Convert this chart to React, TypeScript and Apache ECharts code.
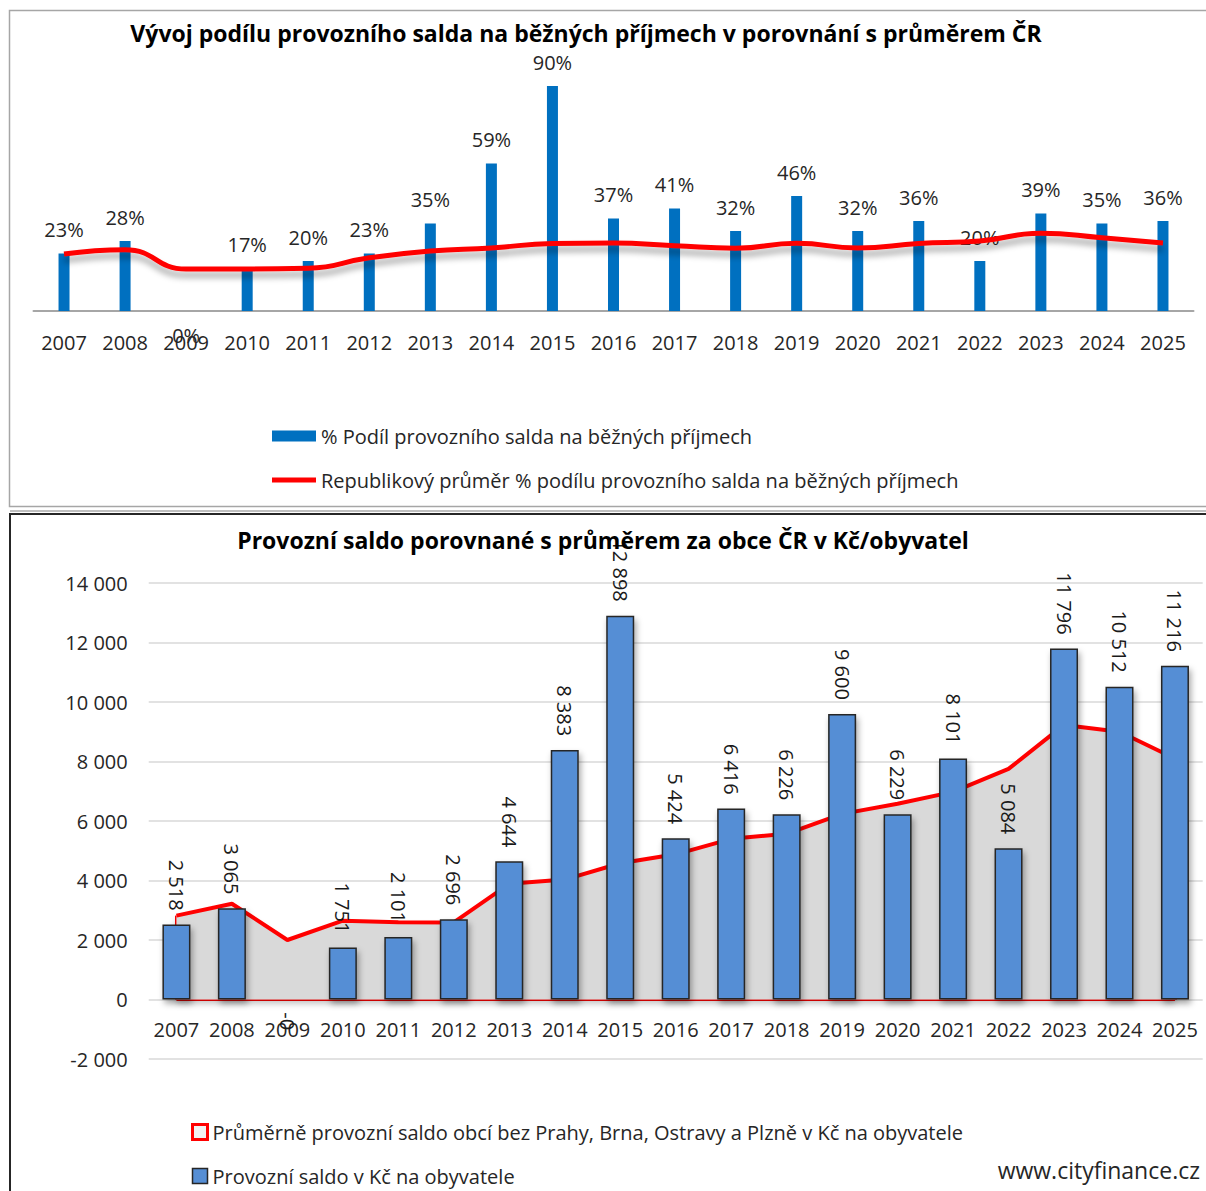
import React, { useEffect, useRef } from "react";
import * as echarts from "echarts";

const years = ["2007","2008","2009","2010","2011","2012","2013","2014","2015","2016","2017","2018","2019","2020","2021","2022","2023","2024","2025"];
const sharePct = [23, 28, 0, 17, 20, 23, 35, 59, 90, 37, 41, 32, 46, 32, 36, 20, 39, 35, 36];
const sharePctAvg = [22.8, 24.5, 16.8, 16.8, 17.1, 21.3, 24.0, 25.2, 27.0, 27.2, 26.1, 25.1, 27.1, 25.2, 27.0, 28.0, 31.1, 29.3, 27.2];
const saldo = [2518, 3065, -0.3, 1751, 2101, 2696, 4644, 8383, 12898, 5424, 6416, 6226, 9600, 6229, 8101, 5084, 11796, 10512, 11216];
const saldoAvg = [2820, 3220, 2000, 2650, 2600, 2590, 3890, 4030, 4580, 4880, 5400, 5570, 6240, 6580, 6980, 7750, 9230, 9000, 8100];
const saldoAxis = { min: -2000, max: 14000, step: 2000 };

const title1 = "Vývoj podílu provozního salda na běžných příjmech v porovnání s průměrem ČR";
const title2 = "Provozní saldo porovnané s průměrem za obce ČR v Kč/obyvatel";
const nBar1 = "% Podíl provozního salda na běžných příjmech";
const nLine1 = "Republikový průměr % podílu provozního salda na běžných příjmech";
const nArea2 = "Průměrně provozní saldo obcí bez Prahy, Brna, Ostravy a Plzně v Kč na obyvatele";
const nBar2 = "Provozní saldo v Kč na obyvatele";
const source = "www.cityfinance.cz";

const FONT = "'Open Sans', 'Noto Sans', sans-serif";

function fmt(v: number): string {
  const r = Math.round(Math.abs(v));
  const s = String(r).replace(/\B(?=(\d{3})+(?!\d))/g, " ");
  return (v < 0 ? "-" : "") + s;
}

export default function App() {
  const ref = useRef<HTMLDivElement>(null);
  useEffect(() => {
    if (!ref.current) return;
    const chart = echarts.init(ref.current, undefined, { renderer: "svg" });
    const last = years.length - 1;
    const option: any = {
      animation: false,
      backgroundColor: "#ffffff",
      textStyle: { fontFamily: FONT },
      graphic: [
        { type: "rect", silent: true, z: 0, shape: { x: 9.5, y: 10.5, width: 1205, height: 496 }, style: { fill: "none", stroke: "#A6A6A6", lineWidth: 1.5 } },
        { type: "rect", silent: true, z: 0, shape: { x: 10, y: 514, width: 1205, height: 700 }, style: { fill: "none", stroke: "#262626", lineWidth: 2 } },
        { type: "line", silent: true, z: 0, shape: { x1: 10, y1: 511, x2: 1206, y2: 511 }, style: { stroke: "#808080", lineWidth: 1 } },
        { type: "text", silent: true, z: 10, x: 586, y: 33, style: { text: title1, font: `bold 23px ${FONT}`, fill: "#000", textAlign: "center", textVerticalAlign: "middle" } },
        { type: "text", silent: true, z: 10, x: 603, y: 540, style: { text: title2, font: `bold 23px ${FONT}`, fill: "#000", textAlign: "center", textVerticalAlign: "middle" } },
        { type: "text", silent: true, z: 10, x: 1200, y: 1170, style: { text: source, font: `23px ${FONT}`, fill: "#262626", textAlign: "right", textVerticalAlign: "middle" } },
      ],
      legend: [
        {
          left: 272, top: 426, padding: 0, orient: "vertical", itemWidth: 44, itemHeight: 11, itemGap: 24,
          textStyle: { fontSize: 20, lineHeight: 20, color: "#262626", fontFamily: FONT },
          data: [
            { name: nBar1, icon: "rect", itemStyle: { color: "#0070C0", shadowBlur: 0 } },
            { name: nLine1, icon: "path://M0,0H44V5H0Z", itemStyle: { color: "#FF0000", shadowBlur: 0 } },
          ],
        },
        {
          left: 191, top: 1122, padding: 0, orient: "vertical", itemWidth: 15, itemHeight: 15, itemGap: 24,
          textStyle: { fontSize: 20, lineHeight: 20, color: "#262626", fontFamily: FONT },
          data: [
            { name: nArea2, icon: "rect", itemStyle: { color: "#F2F2F2", borderColor: "#FF0000", borderWidth: 3, shadowBlur: 0 } },
            { name: nBar2, icon: "rect", itemStyle: { color: "#558ED5", borderColor: "#262626", borderWidth: 1.5, shadowBlur: 0 } },
          ],
        },
      ],
      grid: [
        { left: 33.5, top: 61, width: 1160, height: 250 },
        { left: 148.7, top: 583, width: 1054, height: 476 },
      ],
      xAxis: [
        {
          type: "category", gridIndex: 0, data: years,
          axisLine: { lineStyle: { color: "#A6A6A6", width: 2 } },
          axisTick: { show: false },
          axisLabel: { fontSize: 20, color: "#262626", margin: 21, interval: 0, fontFamily: FONT },
        },
        {
          type: "category", gridIndex: 1, data: years,
          axisLine: { show: false, onZero: false },
          axisTick: { show: false },
          axisLabel: { fontSize: 20, color: "#262626", margin: -40, interval: 0, fontFamily: FONT },
        },
      ],
      yAxis: [
        { type: "value", gridIndex: 0, min: 0, max: 100, show: false, splitLine: { show: false } },
        {
          type: "value", gridIndex: 1, min: saldoAxis.min, max: saldoAxis.max, interval: saldoAxis.step,
          axisLine: { show: false }, axisTick: { show: false },
          splitLine: { lineStyle: { color: "#D9D9D9", width: 1.5 } },
          axisLabel: { fontSize: 20, color: "#262626", margin: 21, formatter: (v: number) => fmt(v), fontFamily: FONT },
        },
      ],
      series: [
        {
          name: nBar1, type: "bar", xAxisIndex: 0, yAxisIndex: 0, barWidth: 11,
          itemStyle: { color: "#0070C0" },
          label: {
            show: true, position: "top", distance: 14, fontSize: 20, color: "#262626", fontFamily: FONT,
            formatter: (p: any) => Math.round(p.value) + "%",
          },
          data: sharePct.map((v) => (v === 0 ? { value: v, label: { position: "bottom", distance: 14 } } : v)),
          z: 2,
        },
        {
          name: nLine1, type: "line", xAxisIndex: 0, yAxisIndex: 0, smooth: 0.5, symbol: "none",
          itemStyle: { color: "#FF0000" },
          lineStyle: { color: "#FF0000", width: 5, shadowColor: "rgba(0,0,0,0.35)", shadowBlur: 6, shadowOffsetY: 6 },
          data: sharePctAvg,
          z: 3,
        },
        {
          name: nArea2, type: "line", xAxisIndex: 1, yAxisIndex: 1, symbol: "none",
          itemStyle: { color: "#FF0000" },
          lineStyle: { color: "#FF0000", width: 4 },
          areaStyle: { color: "#D9D9D9", opacity: 1, shadowColor: "rgba(0,0,0,0.25)", shadowBlur: 6, shadowOffsetY: 4 },
          data: saldoAvg,
          markLine: {
            silent: true, symbol: "none", label: { show: false }, z: 1,
            lineStyle: { color: "#FF0000", width: 3, type: "solid" },
            data: [
              [{ coord: [years[0], 0] }, { coord: [years[last], 0] }],
              [{ coord: [years[0], 0] }, { coord: [years[0], saldoAvg[0]] }],
              [{ coord: [years[last], 0] }, { coord: [years[last], saldoAvg[last]] }],
            ],
          },
          z: 2,
        },
        {
          name: nBar2, type: "bar", xAxisIndex: 1, yAxisIndex: 1, barWidth: 28,
          itemStyle: {
            color: "#558ED5", borderColor: "#262626", borderWidth: 1.5,
            shadowColor: "rgba(0,0,0,0.35)", shadowBlur: 6, shadowOffsetX: 2, shadowOffsetY: 4,
          },
          label: {
            show: true, position: "top", distance: 14, rotate: -90, align: "right", verticalAlign: "middle",
            fontSize: 20, color: "#1a1a1a", fontFamily: FONT,
            formatter: (p: any) => fmt(p.value),
          },
          data: saldo.map((v) =>
            v < 0 ? { value: v, label: { position: "bottom", align: "left", distance: 12 } } : v
          ),
          z: 4,
        },
      ],
    };
    chart.setOption(option);
    return () => chart.dispose();
  }, []);
  return (
    <div
      ref={ref}
      style={{ position: "absolute", left: 0, top: 0, width: 1206, height: 1191, background: "#fff" }}
    />
  );
}
